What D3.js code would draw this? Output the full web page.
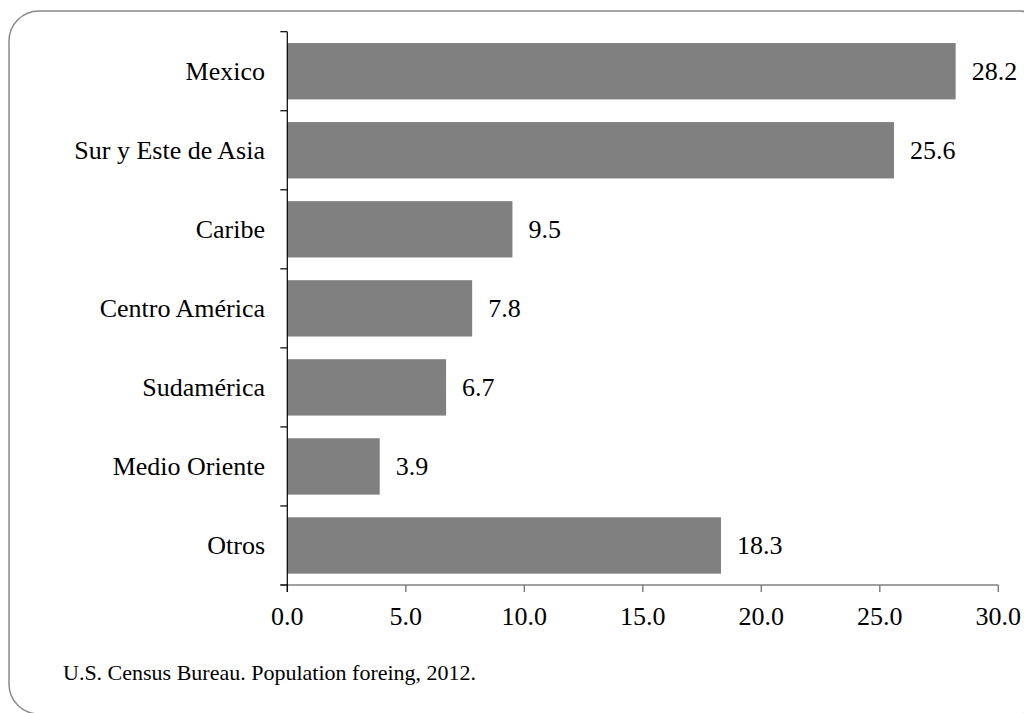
<!DOCTYPE html>
<html><head><meta charset="utf-8">
<script src="https://cdn.jsdelivr.net/npm/d3@7"></script>
<style>body{margin:0;background:#fff}svg{display:block}text{font-family:"Liberation Serif","Times New Roman",serif;fill:#000}</style>
</head><body>
<svg id="c" width="1024" height="713"></svg>
<script>
const categories = ["Mexico","Sur y Este de Asia","Caribe","Centro América","Sudamérica","Medio Oriente","Otros"];
const values = [28.2,25.6,9.5,7.8,6.7,3.9,18.3];
const xTicks = [0,5,10,15,20,25,30];
const source = "U.S. Census Bureau. Population foreing, 2012.";

const svg = d3.select("#c");
svg.append("rect").attr("x",9).attr("y",11).attr("width",1040).attr("height",703)
  .attr("rx",30).attr("ry",30).attr("fill","none").attr("stroke","#8a8a8a").attr("stroke-width",1.5);

const x0 = 287.3, x1 = 998.3, yTop = 31.7, yBot = 585;
const x = d3.scaleLinear().domain([0,30]).range([x0,x1]);
const y = d3.scaleBand().domain(categories).range([yTop,yBot]).paddingInner(0.287).paddingOuter(0.1435);
const step = y.step();

// bars
svg.selectAll("rect.bar").data(categories).enter().append("rect").attr("class","bar")
  .attr("x",x(0)).attr("y",d=>y(d)).attr("height",y.bandwidth())
  .attr("width",(d,i)=>x(values[i])-x(0)).attr("fill","#808080");

// x axis
const xa = svg.append("g");
xa.append("line").attr("x1",x(0)-7).attr("x2",x(30)).attr("y1",yBot).attr("y2",yBot)
  .attr("stroke","#808080").attr("stroke-width",1.5);
xa.selectAll("line.t").data(xTicks).enter().append("line").attr("class","t")
  .attr("x1",d=>x(d)).attr("x2",d=>x(d)).attr("y1",yBot).attr("y2",yBot+7)
  .attr("stroke","#808080").attr("stroke-width",1.5);
xa.selectAll("text").data(xTicks).enter().append("text")
  .attr("x",d=>x(d)).attr("y",625).attr("text-anchor","middle").attr("font-size",26)
  .text(d=>d.toFixed(1));

// y axis
const ya = svg.append("g");
ya.append("line").attr("x1",x0).attr("x2",x0).attr("y1",yTop).attr("y2",yBot+7)
  .attr("stroke","#000").attr("stroke-width",1.2);
const bounds = d3.range(categories.length+1).map(i=>yTop+i*step);
ya.selectAll("line.t").data(bounds).enter().append("line").attr("class","t")
  .attr("x1",x0-7).attr("x2",x0).attr("y1",d=>d).attr("y2",d=>d)
  .attr("stroke","#000").attr("stroke-width",1.2);
ya.selectAll("text").data(categories).enter().append("text")
  .attr("x",265).attr("y",d=>y(d)+y.bandwidth()/2+9).attr("text-anchor","end")
  .attr("font-size",26).text(d=>d);

// value labels
svg.selectAll("text.v").data(categories).enter().append("text").attr("class","v")
  .attr("x",(d,i)=>x(values[i])+16).attr("y",d=>y(d)+y.bandwidth()/2+9)
  .attr("font-size",26).text((d,i)=>values[i].toFixed(1));

svg.append("text").attr("x",63).attr("y",680).attr("font-size",22).text(source);
</script>
</body></html>
